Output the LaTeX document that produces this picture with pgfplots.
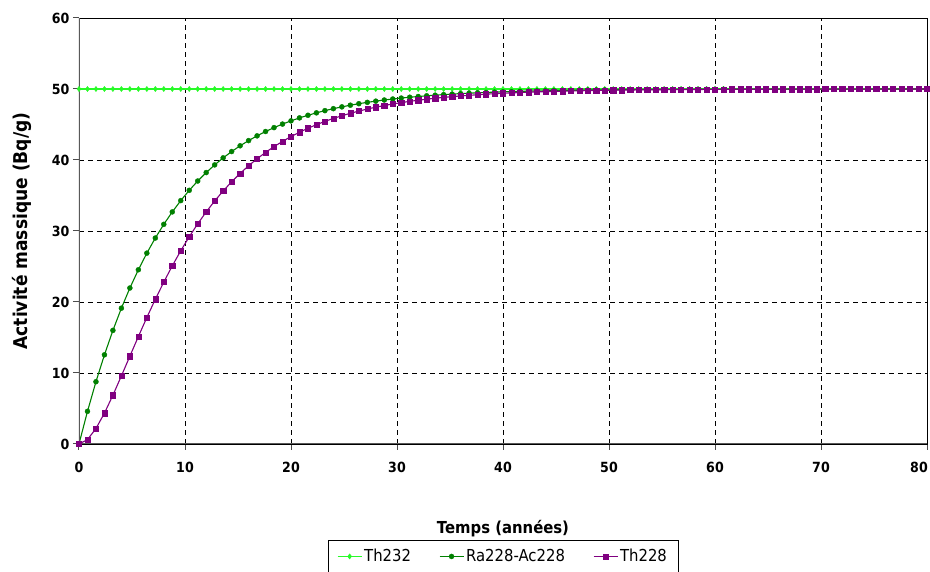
\documentclass[border=0pt]{standalone}
\usepackage{fontspec}
\setmainfont{DejaVu Sans}[FakeStretch=0.9]
\usepackage{pgfplots}
\usepackage{pgfplotstable}
\pgfplotsset{compat=1.18}

\definecolor{cTh}{RGB}{40,250,40}
\definecolor{cRa}{RGB}{0,128,0}
\definecolor{cTt}{RGB}{128,0,128}

% t (années), Th232, Ra228-Ac228, Th228  -- activité massique en Bq/g
\pgfplotstableread{
t    th232 ra    th
0.0  50 0.00  0.00
0.8  50 4.60  0.62
1.6  50 8.77  2.18
2.4  50 12.56 4.35
3.2  50 16.00 6.87
4.0  50 19.13 9.59
4.8  50 21.97 12.37
5.6  50 24.54 15.13
6.4  50 26.88 17.82
7.2  50 29.01 20.38
8.0  50 30.94 22.81
8.8  50 32.69 25.09
9.6  50 34.28 27.22
10.4 50 35.73 29.19
11.2 50 37.04 31.01
12.0 50 38.23 32.69
12.8 50 39.31 34.23
13.6 50 40.30 35.64
14.4 50 41.19 36.93
15.2 50 42.00 38.11
16.0 50 42.73 39.19
16.8 50 43.40 40.17
17.6 50 44.01 41.07
18.4 50 44.56 41.88
19.2 50 45.06 42.62
20.0 50 45.51 43.30
20.8 50 45.93 43.91
21.6 50 46.30 44.47
22.4 50 46.64 44.97
23.2 50 46.95 45.44
24.0 50 47.23 45.85
24.8 50 47.48 46.23
25.6 50 47.72 46.58
26.4 50 47.93 46.89
27.2 50 48.12 47.18
28.0 50 48.29 47.44
28.8 50 48.45 47.67
29.6 50 48.59 47.89
30.4 50 48.72 48.08
31.2 50 48.84 48.26
32.0 50 48.94 48.42
32.8 50 49.04 48.56
33.6 50 49.13 48.70
34.4 50 49.21 48.82
35.2 50 49.28 48.92
36.0 50 49.35 49.02
36.8 50 49.41 49.11
37.6 50 49.46 49.19
38.4 50 49.51 49.27
39.2 50 49.56 49.34
40.0 50 49.60 49.40
40.8 50 49.63 49.45
41.6 50 49.67 49.50
42.4 50 49.70 49.55
43.2 50 49.73 49.59
44.0 50 49.75 49.63
44.8 50 49.77 49.66
45.6 50 49.80 49.69
46.4 50 49.81 49.72
47.2 50 49.83 49.75
48.0 50 49.85 49.77
48.8 50 49.86 49.79
49.6 50 49.87 49.81
50.4 50 49.89 49.83
51.2 50 49.90 49.84
52.0 50 49.91 49.86
52.8 50 49.91 49.87
53.6 50 49.92 49.88
54.4 50 49.93 49.89
55.2 50 49.94 49.90
56.0 50 49.94 49.91
56.8 50 49.95 49.92
57.6 50 49.95 49.93
58.4 50 49.96 49.93
59.2 50 49.96 49.94
60.0 50 49.96 49.95
60.8 50 49.97 49.95
61.6 50 49.97 49.96
62.4 50 49.97 49.96
63.2 50 49.98 49.96
64.0 50 49.98 49.97
64.8 50 49.98 49.97
65.6 50 49.98 49.97
66.4 50 49.98 49.98
67.2 50 49.99 49.98
68.0 50 49.99 49.98
68.8 50 49.99 49.98
69.6 50 49.99 49.98
70.4 50 49.99 49.99
71.2 50 49.99 49.99
72.0 50 49.99 49.99
72.8 50 49.99 49.99
73.6 50 49.99 49.99
74.4 50 49.99 49.99
75.2 50 49.99 49.99
76.0 50 50.00 49.99
76.8 50 50.00 49.99
77.6 50 50.00 49.99
78.4 50 50.00 49.99
79.2 50 50.00 50.00
80.0 50 50.00 50.00
}\decay

\begin{document}
\begin{tikzpicture}
\begin{axis}[
  at={(79pt,128pt)}, anchor=south west,
  scale only axis, width=848pt, height=426pt,
  xmin=0, xmax=80, ymin=0, ymax=60,
  xtick={0,10,...,80}, ytick={0,10,...,60},
  xticklabels={0,10,20,30,40,50,60,70,\hspace*{-16pt}80},
  grid=major,
  major grid style={black, line width=0.8pt, dash pattern=on 5pt off 4pt},
  axis line style={black, line width=0.9pt},
  tick align=outside, tick pos=left, major tick length=6pt,
  tick style={black!70, line width=1pt},
  /pgf/number format/assume math mode=true,
  ticklabel style={font=\bfseries\fontsize{14}{16}\selectfont},
  xticklabel style={yshift=-9pt},
  xlabel={Temps (années)},
  ylabel={Activité massique (Bq/g)},
  xlabel style={at={(axis description cs:0.5,-0.1995)}, anchor=center,
                font=\bfseries\fontsize{16.5}{18}\selectfont},
  ylabel style={at={(axis description cs:-0.0672,0.5)}, anchor=center,
                font=\bfseries\fontsize{19}{21}\selectfont},
  legend columns=3,
  legend style={at={(axis description cs:0.5,-0.2254)}, anchor=north,
                draw=black, line width=0.8pt, inner xsep=9pt, inner ysep=7pt,
                font=\fontsize{16.5}{18}\selectfont,
                /tikz/every even column/.append style={column sep=26pt}},
  legend image code/.code={%
    \draw[mark repeat=2, mark phase=2, #1]
      plot coordinates {(0pt,0pt) (12pt,0pt) (24pt,0pt)};},
]
\addplot[cTh, line width=1.1pt, mark=diamond*, mark size=2.6pt,
         mark options={solid, line width=0.4pt}]
  table[x=t, y=th232] {\decay};
\addlegendentry{Th232}
\addplot[cRa, line width=1.1pt, mark=*, mark size=2.5pt,
         mark options={solid, line width=0.4pt}]
  table[x=t, y=ra] {\decay};
\addlegendentry{Ra228-Ac228}
\addplot[cTt, line width=1.1pt, mark=square*, mark size=2.6pt,
         mark options={solid, line width=0.4pt}]
  table[x=t, y=th] {\decay};
\addlegendentry{Th228}
% heavier grey left and bottom axis lines
\draw[black!65, line width=2pt] (rel axis cs:0,1) -- (rel axis cs:0,0) -- (rel axis cs:1,0);
\end{axis}
\pgfresetboundingbox
\path (0pt,0pt) rectangle (930pt,572pt);
\end{tikzpicture}
\end{document}
